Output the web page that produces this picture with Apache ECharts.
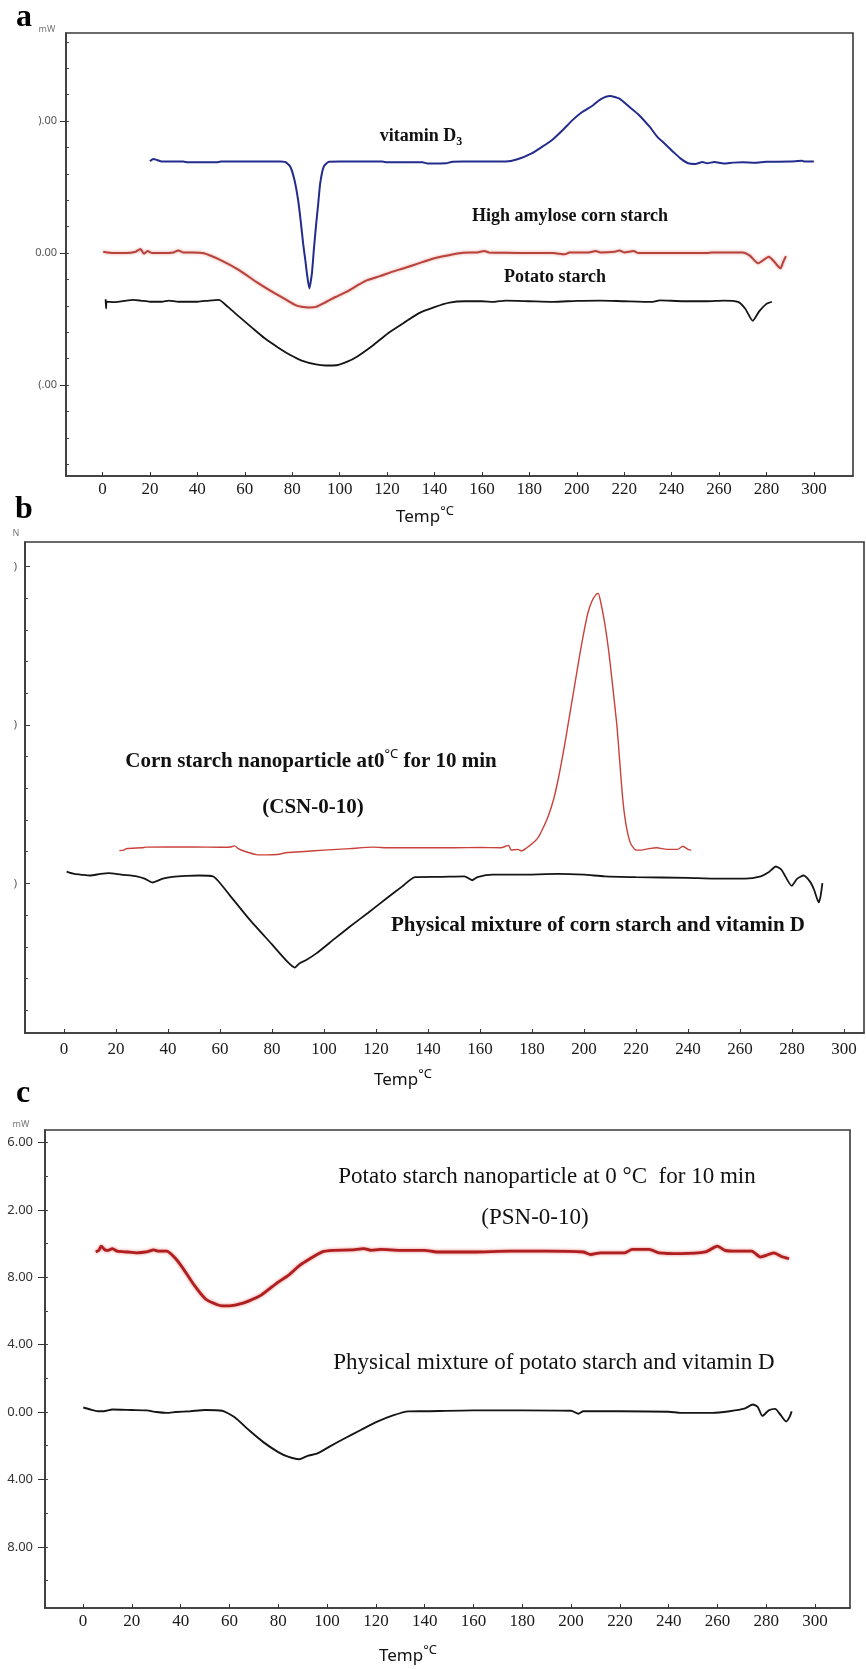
<!DOCTYPE html>
<html>
<head>
<meta charset="utf-8">
<title>DSC thermograms</title>
<script src="https://cdn.jsdelivr.net/npm/echarts@6/dist/echarts.min.js"></script>
<style>
  html, body { margin: 0; padding: 0; background: #fff; }
  #chart { width: 866px; height: 1669px; }
</style>
</head>
<body>
<div id="chart"></div>
<script>
// temperature ticks shared by the three panels
const xTicks = [0, 20, 40, 60, 80, 100, 120, 140, 160, 180, 200, 220, 240, 260, 280, 300]

// panel a: y ticks (labels are cut off at the left in the original figure)
const aYTicks = [10, 0, -10]
const aYText = [').00', '0.00', '(.00']
const aYMinor = [-16, -14, -12, -10, -8, -6, -4, -2, 0, 2, 4, 6, 8, 10, 12, 14, 16]

// panel b
const bYTicks = [20, 10, 0]
const bYText = [')', ')', ')']
const bYMinor = [-8, -6, -4, -2, 0, 2, 4, 6, 8, 10, 12, 14, 16, 18, 20]

// panel c
const cYTicks = [16, 12, 8, 4, 0, -4, -8]
const cYText = ['6.00', '2.00', '8.00', '4.00', '0.00', '4.00', '8.00']
const cYMinor = [-10, -8, -6, -4, -2, 0, 2, 4, 6, 8, 10, 12, 14, 16]

// panel a series  [temp, mW]
const vitaminD3 = [
  [20, 6.95], [21.5, 7.12], [23, 7.05], [25, 6.93], [30, 6.93], [34, 6.93], [36, 6.88], [48, 6.88],
  [50, 6.93], [60, 6.93], [70, 6.93], [75, 6.93], [77, 6.9], [79.2, 6.54], [81, 5.5], [82.5, 4.0],
  [83.6, 2.4], [84.6, 0.73], [85.5, -0.5], [86.2, -1.54], [87.2, -2.68], [88.3, -1.54], [89.1, 0.2],
  [90, 2.0], [91, 3.8], [91.8, 5.28], [93.3, 6.54], [95.5, 6.92], [100, 6.93], [118, 6.93],
  [120, 6.88], [135, 6.88], [137, 6.78], [145, 6.8], [147, 6.9], [152, 6.93], [170, 6.93],
  [175, 7.1], [181, 7.55], [185, 8.0], [189.6, 8.56], [194, 9.3], [198.2, 10.07], [202, 10.65],
  [206.9, 11.2], [210, 11.65], [214, 11.9], [218, 11.7], [222, 11.1], [226, 10.5], [230.7, 9.57],
  [234, 8.8], [237, 8.3], [240.5, 7.7], [243.7, 7.17], [247, 6.8], [250, 6.75], [253, 6.9],
  [255, 6.8], [258, 6.9], [262, 6.78], [266, 6.85], [270, 6.88], [275, 6.85], [280, 6.92],
  [290, 6.93], [295, 7.0], [296, 6.93], [300, 6.93]
]
const amyloseCorn = [
  [0.3, 0.1], [2, 0.05], [5, 0], [10, 0], [14, 0.1], [16, 0.3], [17.5, -0.05], [19, 0.15], [21, 0],
  [25, 0], [30, 0.05], [32, 0.2], [34, 0.05], [38, 0.05], [42.4, 0], [50, -0.55], [57.6, -1.29],
  [65, -2.2], [72.7, -3.06], [78, -3.6], [81.4, -3.94], [84, -4.07], [86.8, -4.12], [90, -4.08],
  [94.4, -3.69], [98, -3.35], [103, -2.93], [108, -2.4], [111.7, -2.05], [117, -1.75], [122.4, -1.41],
  [128, -1.1], [133.3, -0.78], [140, -0.4], [148.5, -0.08], [152, 0.02], [158, 0.05], [161, 0.15],
  [163, 0.05], [170, 0.02], [180, 0], [190, 0], [195, -0.1], [197, 0.05], [205, 0.05], [208, 0.15],
  [210, 0.05], [216, 0.1], [218, 0.2], [220, 0.05], [224, 0.15], [226, 0], [240, 0], [255, 0],
  [257, 0.05], [270, 0.05], [273, -0.2], [276.5, -0.78], [281, -0.28], [283.5, -0.7], [285.9, -1.16],
  [287, -0.7], [288.2, -0.23]
]
const potatoStarch = [
  [1.3, -3.5], [1.5, -4.2], [1.8, -3.69], [5, -3.72], [10, -3.6], [13, -3.55], [16, -3.6], [20, -3.69],
  [25, -3.69], [28, -3.6], [32, -3.69], [40, -3.69], [45, -3.6], [49, -3.55], [53, -4.1], [57.6, -4.82],
  [63, -5.65], [68.4, -6.46], [74, -7.15], [79.2, -7.73], [84, -8.15], [90, -8.44], [94, -8.52],
  [98.7, -8.5], [103, -8.25], [107.3, -7.85], [114, -7.0], [120.3, -6.09], [127, -5.3], [133.3, -4.57],
  [140, -4.1], [146.3, -3.76], [152.7, -3.65], [160, -3.65], [165, -3.7], [170, -3.6], [180, -3.65],
  [190, -3.7], [200, -3.62], [210, -3.6], [220, -3.65], [232, -3.7], [235, -3.58], [245, -3.65],
  [255, -3.65], [262, -3.6], [268, -3.7], [271, -4.2], [274.2, -5.13], [277, -4.4], [280, -3.85],
  [282.3, -3.69]
]

// panel b series
const csn010 = [
  [21.3, 2.07], [23, 2.1], [24, 2.2], [30, 2.25], [31.5, 2.29], [40, 2.3], [50, 2.3], [60, 2.28],
  [64, 2.3], [65.6, 2.37], [67, 2.2], [70, 2.0], [74, 1.82], [78, 1.8], [82, 1.83], [86, 1.95], [92.6, 2.02],
  [100, 2.1], [110, 2.2], [119, 2.29], [125, 2.25], [140, 2.25], [150, 2.25], [160, 2.27], [168, 2.25],
  [171, 2.4], [172, 2.1], [174.5, 2.15], [176, 2.05], [178, 2.25], [180, 2.5], [182.2, 2.86],
  [184, 3.4], [186.2, 4.23], [188.3, 5.3], [190.3, 6.75], [192.4, 8.6], [194.4, 10.54], [196.5, 12.6],
  [198.5, 14.55], [200, 15.9], [201.5, 17.07], [203, 17.8], [204.6, 18.23], [205.5, 18.3],
  [206.5, 17.7], [208, 16.4], [209.6, 14.55], [211.2, 12.2], [212.7, 9.9], [213.7, 7.8], [214.7, 5.7],
  [215.7, 4.2], [216.8, 3.18], [218, 2.5], [219.8, 2.12], [222, 2.1], [225, 2.2], [228, 2.25],
  [232, 2.15], [236, 2.15], [238, 2.35], [240, 2.15], [241.2, 2.1]
]
const mixCorn = [
  [1, 0.75], [4, 0.6], [7.1, 0.54], [10, 0.5], [14, 0.6], [17.2, 0.65], [22, 0.55], [28, 0.45],
  [31, 0.3], [34, 0.06], [38, 0.3], [41.7, 0.42], [47, 0.48], [52, 0.5], [57.4, 0.44], [64, -0.8],
  [71.5, -2.3], [80, -3.85], [86, -4.95], [88.8, -5.31], [90.5, -5.05], [93, -4.85], [97.2, -4.4],
  [104, -3.5], [110, -2.72], [117, -1.85], [124, -0.95], [130, -0.2], [135, 0.4], [145, 0.42],
  [154, 0.45], [157, 0.2], [159, 0.4], [165, 0.55], [175, 0.55], [190, 0.6], [200, 0.55], [208, 0.45],
  [220, 0.4], [240, 0.35], [250, 0.3], [262, 0.3], [268, 0.45], [271, 0.7], [273.8, 1.07], [276, 0.85],
  [279.9, -0.15], [282, 0.3], [284.5, 0.5], [287, 0.1], [288.5, -0.4], [290.3, -1.2], [291, -0.8],
  [291.7, 0.02]
]

// panel c series
const psn010 = [
  [5.2, 9.51], [6.5, 9.6], [7.4, 9.85], [9, 9.62], [10.3, 9.6], [12, 9.7], [14, 9.55], [18, 9.5],
  [22, 9.45], [26, 9.5], [29, 9.62], [31, 9.55], [34.3, 9.55], [38, 9.1], [41.1, 8.5], [45.7, 7.5],
  [50.2, 6.71], [54.8, 6.38], [57, 6.3], [60, 6.3], [64, 6.4], [68, 6.6], [73, 6.94], [79.8, 7.7],
  [84, 8.1], [88.9, 8.72], [93, 9.1], [98, 9.51], [102.5, 9.6], [110, 9.62], [115, 9.7], [118, 9.6],
  [122, 9.65], [130, 9.6], [140, 9.6], [145, 9.5], [160, 9.5], [175, 9.55], [190, 9.55], [205, 9.5],
  [208, 9.35], [212, 9.45], [222, 9.45], [225, 9.65], [232, 9.65], [236, 9.45], [245, 9.4], [255, 9.5],
  [260, 9.85], [263, 9.6], [268, 9.55], [274, 9.55], [277.6, 9.2], [280, 9.3], [283, 9.45],
  [286, 9.25], [289.3, 9.1]
]
const mixPotato = [
  [0.1, 0.27], [3, 0.15], [6, 0.05], [8.4, 0.05], [12, 0.15], [20, 0.12], [26, 0.1], [30, 0],
  [34.3, -0.05], [38, 0], [44, 0.05], [50, 0.12], [57, 0.08], [62, -0.3], [68.4, -1.13], [74, -1.8],
  [79.8, -2.36], [84, -2.65], [88.5, -2.8], [92, -2.6], [95.8, -2.47], [101, -2.05], [107.1, -1.57],
  [114, -1.05], [120.8, -0.56], [127, -0.2], [133.3, 0.04], [140, 0.05], [160, 0.1], [180, 0.1],
  [200, 0.08], [203, -0.1], [205, 0.05], [220, 0.05], [240, 0.02], [245, -0.05], [258, -0.05],
  [265, 0.05], [271, 0.2], [274.5, 0.45], [276.5, 0.3], [278.4, -0.23], [281, 0.1], [283.6, 0.19],
  [286, -0.2], [288.1, -0.56], [289.5, -0.3], [290.4, 0.04]
]

const SERIF = '"Liberation Serif", "Times New Roman", serif'
const SANS = '"Noto Sans", "Open Sans", sans-serif'
const frame = '#3a3a3a'

function xAxisFor(grid, min, max, margin) {
  return {
    type: 'value', gridIndex: grid, min: min, max: max, position: 'bottom',
    axisLine: { show: true, onZero: false, lineStyle: { color: frame, width: 1.6 } },
    axisTick: { show: true, inside: true, length: 4, customValues: xTicks, lineStyle: { color: '#333' } },
    axisLabel: { customValues: xTicks, margin: margin, fontFamily: SERIF, fontSize: 17, color: '#1a1a1a' },
    splitLine: { show: false }
  }
}

function yAxesFor(grid, min, max, ticks, text, minor, opts) {
  return [
    {
      type: 'value', gridIndex: grid, min: min, max: max, position: 'left',
      axisLine: { show: true, onZero: false, lineStyle: { color: frame, width: 1.6 } },
      axisTick: { show: true, inside: opts.inside, length: opts.tickLen, customValues: ticks, lineStyle: { color: '#333' } },
      axisLabel: {
        customValues: ticks, margin: opts.margin, fontFamily: SANS, fontSize: opts.fontSize, color: opts.color,
        formatter: function (v) { return text[ticks.indexOf(v)] }
      },
      splitLine: { show: false }
    },
    {
      type: 'value', gridIndex: grid, min: min, max: max, position: 'left', offset: 0,
      axisLine: { show: false, onZero: false },
      axisTick: { show: true, inside: true, length: 3, customValues: minor, lineStyle: { color: '#444' } },
      axisLabel: { show: false },
      splitLine: { show: false }
    }
  ]
}

function line(data, xi, yi, color, width, halo) {
  return {
    type: 'line', data: data, xAxisIndex: xi, yAxisIndex: yi,
    showSymbol: false, smooth: 0.2, silent: true,
    lineStyle: {
      color: color, width: width,
      shadowColor: halo || 'rgba(0,0,0,0)', shadowBlur: halo ? 3 : 0
    }
  }
}

function label(text, x, y, font, extra) {
  return Object.assign({
    type: 'text', x: x, y: y, silent: true,
    style: { text: text, font: font, fill: '#111', align: 'center', verticalAlign: 'middle' }
  }, extra || {})
}

function richLabel(text, x, y, rich, align) {
  return {
    type: 'text', x: x, y: y, silent: true,
    style: { text: text, rich: rich, fill: '#111', align: align || 'center', verticalAlign: 'middle' }
  }
}

const boldA = 'bold 18px ' + SERIF
const boldB = 'bold 21px ' + SERIF
const regC = '23px ' + SERIF
const letter = 'bold 32px ' + SERIF

const tempRich = {
  t: { fontFamily: SANS, fontSize: 17, color: '#222', lineHeight: 24, verticalAlign: 'middle' },
  s: { fontFamily: SANS, fontSize: 13, color: '#222', lineHeight: 24, verticalAlign: 'top' }
}

const chart = echarts.init(document.getElementById('chart'))
chart.setOption({
  animation: false,
  backgroundColor: '#fff',
  grid: [
    { left: 66, top: 33, width: 787, height: 443, show: true, borderColor: frame, borderWidth: 1.6, containLabel: false },
    { left: 25, top: 542, width: 839, height: 491, show: true, borderColor: frame, borderWidth: 1.6, containLabel: false },
    { left: 45, top: 1130, width: 805, height: 478, show: true, borderColor: frame, borderWidth: 1.6, containLabel: false }
  ],
  xAxis: [
    xAxisFor(0, -15.4, 316.5, 5.5),
    xAxisFor(1, -15, 307.7, 8),
    xAxisFor(2, -15.6, 314.3, 5.5)
  ],
  yAxis: [].concat(
    yAxesFor(0, -16.89, 16.67, aYTicks, aYText, aYMinor, { inside: false, tickLen: 6, margin: 9, fontSize: 11, color: '#555' }),
    yAxesFor(1, -9.44, 21.55, bYTicks, bYText, bYMinor, { inside: true, tickLen: 5, margin: 8, fontSize: 11, color: '#555' }),
    yAxesFor(2, -11.63, 16.74, cYTicks, cYText, cYMinor, { inside: false, tickLen: 7, margin: 12, fontSize: 13, color: '#333' })
  ),
  series: [
    line(vitaminD3, 0, 0, '#232c8c', 2),
    line(amyloseCorn, 0, 0, '#b8433c', 2, 'rgba(214,110,100,0.7)'),
    line(potatoStarch, 0, 0, '#151515', 1.8),
    line(csn010, 1, 2, '#c9413b', 1.4),
    line(mixCorn, 1, 2, '#151515', 1.8),
    line(psn010, 2, 4, '#b01f1f', 2.8, 'rgba(220,90,90,0.8)'),
    line(mixPotato, 2, 4, '#151515', 1.9)
  ],
  graphic: [
    // panel letters and unit marks
    label('a', 16, 18, letter, { style: { text: 'a', font: letter, fill: '#000', align: 'left', verticalAlign: 'middle' } }),
    label('mW', 47, 29, '9px ' + SANS, { style: { text: 'mW', font: '9px ' + SANS, fill: '#777', align: 'center', verticalAlign: 'middle' } }),
    label('b', 15, 510, letter, { style: { text: 'b', font: letter, fill: '#000', align: 'left', verticalAlign: 'middle' } }),
    label('N', 16, 533, '9px ' + SANS, { style: { text: 'N', font: '9px ' + SANS, fill: '#777', align: 'center', verticalAlign: 'middle' } }),
    label('c', 16, 1094, letter, { style: { text: 'c', font: letter, fill: '#000', align: 'left', verticalAlign: 'middle' } }),
    label('mW', 21, 1124, '9px ' + SANS, { style: { text: 'mW', font: '9px ' + SANS, fill: '#777', align: 'center', verticalAlign: 'middle' } }),

    // panel a curve names
    richLabel('{m|vitamin D}{s|3}', 421, 136, {
      m: { font: boldA, lineHeight: 24, verticalAlign: 'middle' },
      s: { font: 'bold 12px ' + SERIF, lineHeight: 24, verticalAlign: 'bottom' }
    }),
    label('High amylose corn starch', 570, 216, boldA),
    label('Potato starch', 555, 277, boldA),

    // panel b curve names
    richLabel('{m|Corn starch nanoparticle at0}{s|°C}{m| for 10 min}', 311, 762, {
      m: { font: boldB, lineHeight: 28, verticalAlign: 'middle' },
      s: { font: '13px ' + SANS, lineHeight: 28, verticalAlign: 'top' }
    }),
    label('(CSN-0-10)', 313, 808, boldB),
    label('Physical mixture of corn starch and vitamin D', 598, 926, boldB),

    // panel c curve names
    label('Potato starch nanoparticle at 0 °C  for 10 min', 547, 1177, regC),
    label('(PSN-0-10)', 535, 1218, regC),
    label('Physical mixture of potato starch and vitamin D', 554, 1363, regC),

    // axis titles
    richLabel('{t|Temp}{s|°C}', 425, 517, tempRich),
    richLabel('{t|Temp}{s|°C}', 403, 1080, tempRich),
    richLabel('{t|Temp}{s|°C}', 408, 1656, tempRich)
  ]
})

window.addEventListener('resize', chart.resize)
</script>
</body>
</html>
